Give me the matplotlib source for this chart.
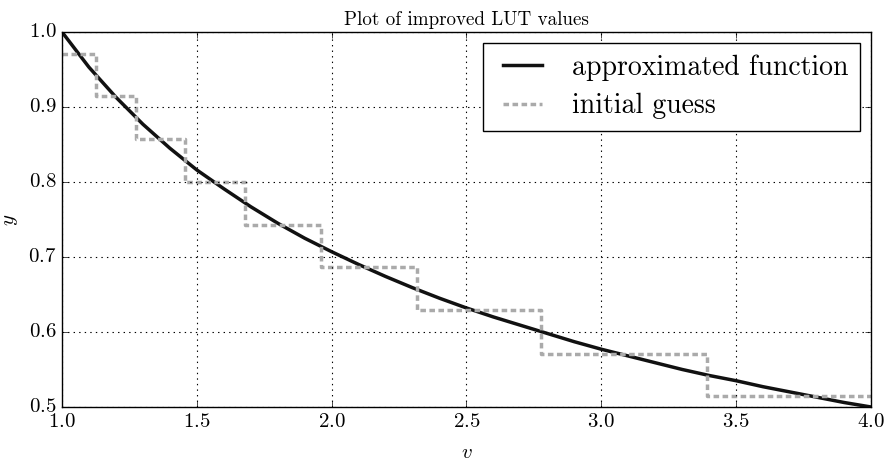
import matplotlib
matplotlib.use("Agg")
import matplotlib.pyplot as plt

# approximated function
v = [1.0, 1.1, 1.2, 1.3, 1.4, 1.5, 1.6, 1.7, 1.8, 1.9, 2.0, 2.1, 2.2, 2.3, 2.4, 2.5,
     2.6, 2.7, 2.8, 2.9, 3.0, 3.1, 3.2, 3.3, 3.4, 3.5, 3.6, 3.7, 3.8, 3.9, 4.0]
y = [1.000, 0.953, 0.913, 0.877, 0.845, 0.816, 0.791, 0.767, 0.745, 0.725, 0.707,
     0.690, 0.674, 0.659, 0.645, 0.632, 0.620, 0.609, 0.598, 0.587, 0.577, 0.568,
     0.559, 0.550, 0.542, 0.535, 0.527, 0.520, 0.513, 0.506, 0.500]

# initial guess LUT (step edges and levels)
edges = [1.0, 1.125, 1.275, 1.457, 1.680, 1.960, 2.316, 2.778, 3.392, 4.0]
levels = [0.971, 0.914, 0.857, 0.800, 0.743, 0.686, 0.629, 0.571, 0.514]

plt.style.use("classic")
plt.rcParams["font.family"] = ["cmr10", "DejaVu Serif"]
plt.rcParams["mathtext.fontset"] = "cm"
plt.rcParams["axes.formatter.use_mathtext"] = True

fig = plt.figure(figsize=(8.88, 4.63), dpi=100, facecolor="white")
ax = fig.add_axes([0.0698, 0.121, 0.911, 0.810])

ax.plot(v, y, color="#111111", linewidth=2.5, label="approximated function")
ax.step(edges, levels + [levels[-1]], where="post", color="#aaaaaa", linewidth=2.5,
        linestyle="--", dashes=(4, 2.5), label="initial guess")

ax.set_xlim(1.0, 4.0)
ax.set_ylim(0.5, 1.0)
ax.set_xticks([1.0, 1.5, 2.0, 2.5, 3.0, 3.5, 4.0])
ax.set_yticks([0.5, 0.6, 0.7, 0.8, 0.9, 1.0])
ax.tick_params(labelsize=15)
ax.grid(True, linestyle=":", color="black", linewidth=0.8)

ax.set_title("Plot of improved LUT values", fontsize=13.7)
ax.set_xlabel(r"$v$", fontsize=15, labelpad=10)
ax.set_ylabel(r"$y$", fontsize=15, labelpad=6)

ax.legend(loc="upper right", fontsize=20, handlelength=2, frameon=True, fancybox=False,
          borderaxespad=0.4, labelspacing=0.45)

fig.savefig("out.png", dpi=100, facecolor="white")
